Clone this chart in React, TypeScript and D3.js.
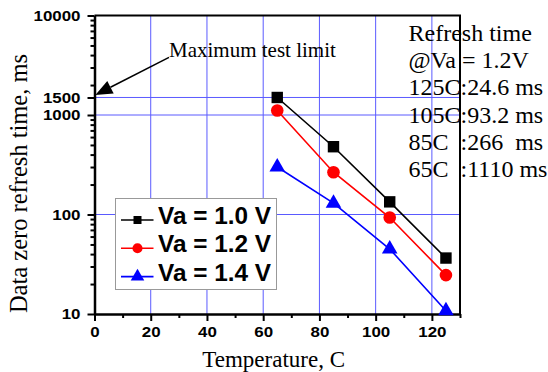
import { useEffect, useRef } from "react";
import * as d3 from "d3";

// temperatures (C) at which refresh time was measured
const temps = [65, 85, 105, 125];
// data zero refresh time, ms
const va10 = [1500, 480, 134, 36.5];
const va12 = [1110, 266, 93.2, 24.6];
const va14 = [300, 130, 45, 10.8];

const seriesNames = ["Va = 1.0 V", "Va = 1.2 V", "Va = 1.4 V"];
const seriesColors = ["#000000", "#ff0000", "#0000ff"];

const xTicks = [0, 20, 40, 60, 80, 100, 120];
const xMinor = [10, 30, 50, 70, 90, 110, 130];
const yTicks = [10, 100, 1000, 1500, 10000];
const yMinor = [20, 30, 40, 50, 60, 70, 80, 90, 200, 300, 400, 500, 600, 700, 800, 900,
  2000, 3000, 4000, 5000, 6000, 7000, 8000, 9000];
const xGrid = [20, 40, 60, 80, 100, 120];
const yGrid = [100, 1000, 1500];

const noteLines = ["Refresh time", "@Va = 1.2V", "125C:24.6 ms", "105C:93.2 ms", "85C  :266  ms", "65C  :1110 ms"];

const SANS = "'Liberation Sans', Arial, sans-serif";
const SERIF = "'Liberation Serif', 'Times New Roman', serif";

function App() {
  const ref = useRef<SVGSVGElement>(null);

  useEffect(() => {
    const svg = d3.select(ref.current);
    svg.selectAll("*").remove();

    const x = d3.scaleLinear().domain([0, 130]).range([94.5, 460]);
    const y = d3.scaleLog().domain([10, 10000]).range([314, 15.5]);
    const [x0, x1] = x.range();
    const [y0, y1] = y.range();

    svg.append("rect").attr("width", 548).attr("height", 372).attr("fill", "#fff");

    // grid
    const grid = svg.append("g").attr("stroke", "#5a5aff").attr("stroke-width", 1);
    grid.selectAll(".gx").data(xGrid).join("line")
      .attr("x1", (d) => x(d)).attr("x2", (d) => x(d))
      .attr("y1", y0).attr("y2", y1);
    grid.selectAll(".gy").data(yGrid).join("line")
      .attr("x1", x0).attr("x2", x1)
      .attr("y1", (d) => y(d)).attr("y2", (d) => y(d));

    // frame top / right
    svg.append("path")
      .attr("d", `M${x0},${y1}H${x1}V${y0}`)
      .attr("fill", "none").attr("stroke", "#000").attr("stroke-width", 2);

    // minor ticks
    svg.append("g").attr("transform", `translate(0,${y0})`)
      .call(d3.axisBottom(x).tickValues(xMinor).tickSize(4).tickSizeOuter(0).tickFormat(() => ""))
      .call((g) => g.select(".domain").remove())
      .selectAll("line").attr("stroke-width", 2);
    svg.append("g").attr("transform", `translate(${x0},0)`)
      .call(d3.axisLeft(y).tickValues(yMinor).tickSize(4).tickSizeOuter(0).tickFormat(() => ""))
      .call((g) => g.select(".domain").remove())
      .selectAll("line").attr("stroke-width", 2);

    // major axes
    const xAxis = svg.append("g").attr("transform", `translate(0,${y0})`)
      .call(d3.axisBottom(x).tickValues(xTicks).tickSize(7).tickSizeOuter(0).tickPadding(5).tickFormat(d3.format("d")));
    const yAxis = svg.append("g").attr("transform", `translate(${x0},0)`)
      .call(d3.axisLeft(y).tickValues(yTicks).tickSize(7).tickSizeOuter(0).tickPadding(7).tickFormat(d3.format("d")));
    [xAxis, yAxis].forEach((g) => {
      g.select(".domain").attr("stroke-width", 2.5);
      g.selectAll("line").attr("stroke-width", 2);
      g.selectAll<SVGTextElement, number>("text")
        .attr("font-family", SANS).attr("font-weight", "bold").attr("font-size", 15).attr("fill", "#000")
        .attr("textLength", (d) => String(d).length * 9.4)
        .attr("lengthAdjust", "spacingAndGlyphs");
    });

    // series
    const series = [va10, va12, va14];
    const shapes = [d3.symbolSquare, d3.symbolCircle, d3.symbolTriangle];
    const sizes = [130, 125, 105];
    const line = d3.line<number>().x((_, i) => x(temps[i])).y((d) => y(d));
    series.forEach((vals, k) => {
      svg.append("path").datum(vals)
        .attr("d", line).attr("fill", "none")
        .attr("stroke", seriesColors[k]).attr("stroke-width", 1.6);
      svg.append("g").selectAll("path").data(vals).join("path")
        .attr("transform", (d, i) => `translate(${x(temps[i])},${y(d)})`)
        .attr("d", d3.symbol(shapes[k], sizes[k])())
        .attr("fill", seriesColors[k]);
    });

    // legend
    const leg = svg.append("g");
    leg.append("rect").attr("x", 115.5).attr("y", 198.5).attr("width", 161).attr("height", 91)
      .attr("fill", "#fff").attr("stroke", "#999").attr("stroke-width", 1);
    const legSizes = [64, 80, 80];
    seriesNames.forEach((name, k) => {
      const cy = 220 + k * 28.3;
      leg.append("line").attr("x1", 121).attr("x2", 153.5).attr("y1", cy).attr("y2", cy)
        .attr("stroke", seriesColors[k]).attr("stroke-width", 1.6);
      leg.append("path").attr("transform", `translate(137.5,${cy})`)
        .attr("d", d3.symbol(shapes[k], legSizes[k])()).attr("fill", seriesColors[k]);
      leg.append("text").attr("x", 158).attr("y", cy + 4)
        .attr("font-family", SANS).attr("font-weight", "bold").attr("font-size", 23)
        .attr("textLength", 113).attr("lengthAdjust", "spacingAndGlyphs")
        .text(name);
    });

    // annotation: maximum test limit
    const tx = x(0.3), ty = y(1500) - 2.5;
    const sx = x(26.5), sy = y(3800);
    const len = Math.hypot(tx - sx, ty - sy);
    const ux = (tx - sx) / len, uy = (ty - sy) / len;
    const bx = tx - ux * 17, by = ty - uy * 17;
    svg.append("line").attr("x1", sx).attr("y1", sy).attr("x2", bx).attr("y2", by)
      .attr("stroke", "#000").attr("stroke-width", 1.5);
    svg.append("path")
      .attr("d", `M${tx},${ty}L${bx - uy * 7},${by + ux * 7}L${bx + uy * 7},${by - ux * 7}Z`)
      .attr("fill", "#000");
    svg.append("text").attr("x", sx).attr("y", sy)
      .attr("font-family", SERIF).attr("font-size", 21).text("Maximum test limit");

    // refresh time note
    const note = svg.append("text").attr("font-family", SERIF).attr("font-size", 24)
      .style("white-space", "pre");
    noteLines.forEach((t, i) => {
      note.append("tspan").attr("x", 408.5).attr("y", 40.7 + i * 27.3).text(t);
    });

    // axis titles
    svg.append("text").attr("x", 273.7).attr("y", 366.5).attr("text-anchor", "middle")
      .attr("font-family", SERIF).attr("font-size", 23).text("Temperature, C");
    svg.append("text").attr("transform", "translate(27,183.5) rotate(-90)").attr("text-anchor", "middle")
      .attr("font-family", SERIF).attr("font-size", 24.5).text("Data zero refresh time, ms");
  }, []);

  return (
    <svg ref={ref} width={548} height={372}
      style={{ position: "absolute", left: 0, top: 0, display: "block" }} />
  );
}

export default App;
